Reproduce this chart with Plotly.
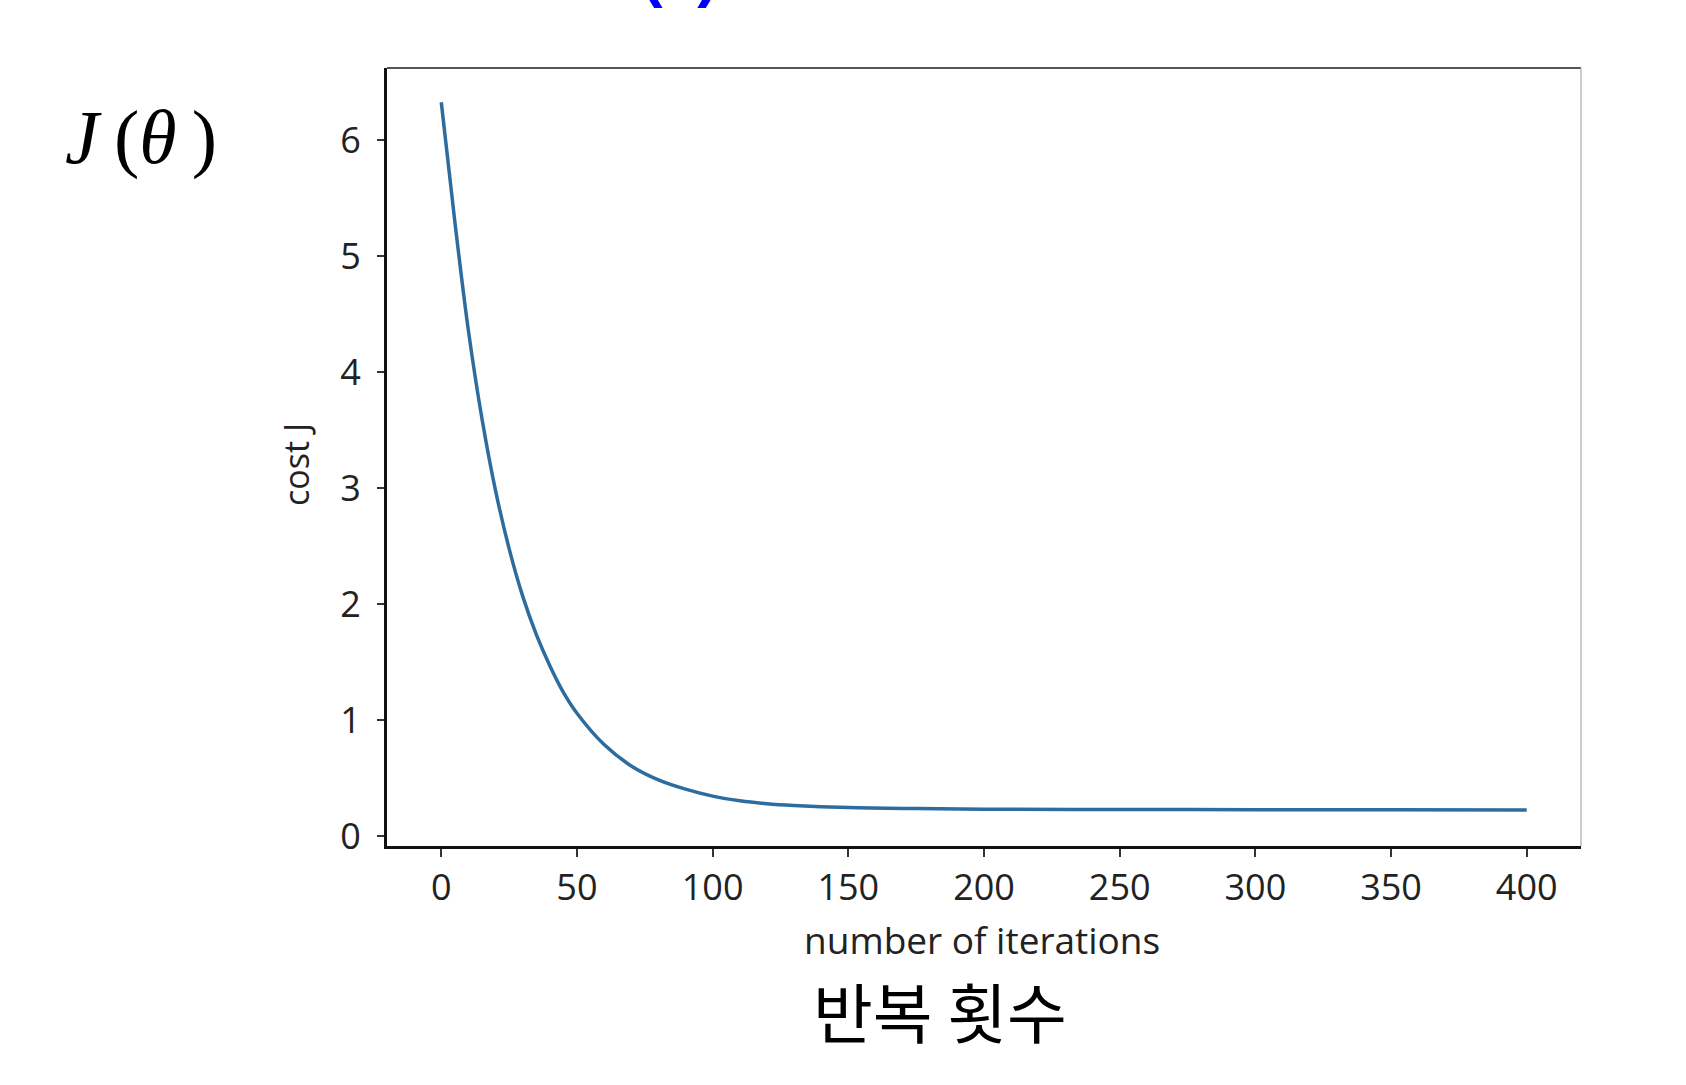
import plotly.graph_objects as go

# ---- data ----
iterations = [0, 5, 10, 15, 20, 25, 30, 35, 40, 45, 50, 60, 70, 80, 90, 100,
              110, 120, 130, 150, 175, 200, 250, 300, 350, 400]
cost = [6.33, 5.30, 4.36, 3.60, 2.98, 2.48, 2.07, 1.74, 1.47, 1.24, 1.06, 0.79,
        0.605, 0.485, 0.405, 0.345, 0.305, 0.28, 0.265, 0.247, 0.238, 0.233, 0.23,
        0.228, 0.227, 0.226]
x_ticks = [0, 50, 100, 150, 200, 250, 300, 350, 400]
y_ticks = [0, 1, 2, 3, 4, 5, 6]

# ---- layout constants (pixels) ----
W, H = 1686, 1085
L, R, T, B = 387, 1581, 68, 846
PW, PH = R - L, B - T


def px(x):
    return (x - L) / PW


def py(y):
    return (B - y) / PH


TICK_FONT = dict(family="Open Sans", size=36, color="#222222")

fig = go.Figure()
fig.add_trace(go.Scatter(
    x=iterations, y=cost, mode="lines",
    line=dict(color="#2d6c9f", width=3.5, shape="spline", smoothing=1.0),
    showlegend=False, hoverinfo="skip"))

fig.update_layout(
    width=W, height=H,
    margin=dict(l=L, r=W - R, t=T, b=H - B, pad=0),
    paper_bgcolor="white", plot_bgcolor="white",
    xaxis=dict(range=[-20, 420], tickvals=x_ticks, ticktext=[str(v) for v in x_ticks],
               showgrid=False, zeroline=False, showline=True, linecolor="#111111",
               linewidth=3, ticks="outside", ticklen=8, tickwidth=2, tickcolor="#333333",
               tickfont=TICK_FONT),
    yaxis=dict(range=[-0.085, 6.625], tickvals=y_ticks, ticktext=[str(v) for v in y_ticks],
               showgrid=False, zeroline=False, showline=True, linecolor="#111111",
               linewidth=3, ticks="outside", ticklen=7, tickwidth=2, tickcolor="#333333",
               tickfont=TICK_FONT, ticklabelstandoff=9),
    shapes=[
        dict(type="line", xref="paper", yref="paper", x0=0, x1=1, y0=1, y1=1,
             line=dict(color="#555555", width=2)),
        dict(type="line", xref="paper", yref="paper", x0=1, x1=1, y0=0, y1=1,
             line=dict(color="#bbbbbb", width=1.5)),
    ],
    annotations=[
        dict(text="number of iterations", xref="paper", yref="paper",
             x=px(982), y=py(939), xanchor="center", yanchor="middle", showarrow=False,
             font=dict(family="Open Sans", size=37, color="#222222")),
        dict(text="cost J", xref="paper", yref="paper", textangle=-90,
             x=px(296), y=py(465), xanchor="center", yanchor="middle", showarrow=False,
             font=dict(family="Open Sans", size=34, color="#222222")),
        dict(text="반복 횟수", xref="paper", yref="paper",
             x=px(940), y=py(1010), xanchor="center", yanchor="middle", showarrow=False,
             font=dict(family="Noto Sans CJK KR", size=65, color="black")),
        dict(text="<i>J</i>\u2009(<i>θ</i>\u2009)", xref="paper", yref="paper",
             x=px(141), y=py(137), xanchor="center", yanchor="middle", showarrow=False,
             font=dict(family="Liberation Serif", size=76, color="black")),
        dict(text="<b>(a)</b>", xref="paper", yref="paper",
             x=px(680), y=py(10), xanchor="center", yanchor="bottom", showarrow=False,
             font=dict(family="Liberation Sans", size=62, color="#0000ff")),
    ],
)

fig.write_html("out.html", config={"displayModeBar": False},
               post_script="document.body.style.margin='0';document.body.style.overflow='hidden';")
